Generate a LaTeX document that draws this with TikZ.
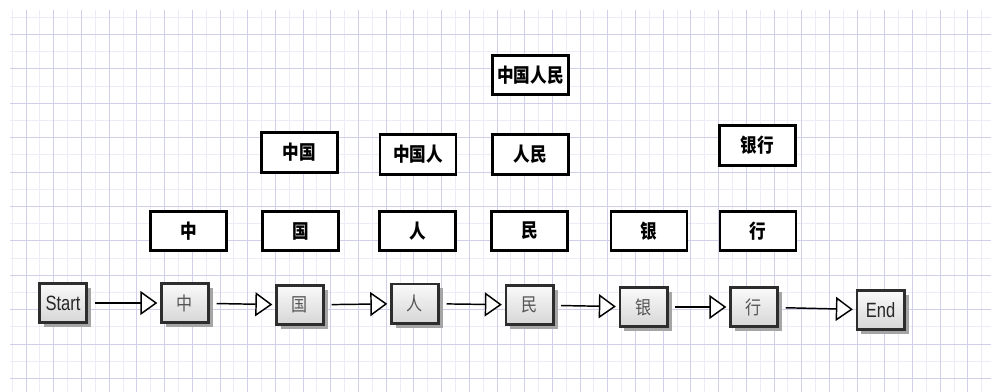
\documentclass[tikz,border=0pt]{standalone}
\usepackage{fontspec}
\setmainfont{Liberation Sans}[FakeStretch=0.8]
\newfontfamily\cjk{Noto Sans CJK SC}[FakeStretch=0.86]
\usetikzlibrary{arrows.meta,shadows,positioning}
\definecolor{grid-minor}{RGB}{236,236,247}
\definecolor{grid-major}{RGB}{208,208,234}
\definecolor{box-line}{RGB}{45,45,45}
\definecolor{box-shade}{RGB}{165,165,165}
\definecolor{char-gray}{RGB}{85,85,85}

\tikzset{
  word/.style={draw=black, line width=2.2pt, fill=white, inner sep=0pt,
    minimum width=57pt, minimum height=29.5pt,
    font=\cjk\bfseries\fontsize{14.5}{15}\selectfont},
  cell/.style={draw=box-line, line width=1.9pt, inner sep=0pt,
    top color=white!96!gray, bottom color=gray!32,
    minimum width=35.6pt, minimum height=29.6pt,
    drop shadow={shadow xshift=3.2pt, shadow yshift=-3.2pt, fill=box-shade, opacity=1},
    font=\cjk\fontsize{14}{15}\selectfont, text=char-gray},
  endpoint/.style={cell, font=\fontsize{15.5}{16}\selectfont, text=black!85},
  flow/.style={line width=1.1pt, -{Triangle[length=12.75pt,width=18pt,fill=white]},
    shorten <=5pt, shorten >=2pt}
}

\begin{document}
\begin{tikzpicture}[x=0.75pt,y=-0.75pt]

\useasboundingbox (0,0) rectangle (991,392);
\fill[white] (0,0) rectangle (991,392);

\begin{scope}
\clip (10,10) rectangle (991,392);
\foreach \i in {0,...,71}
  \draw[grid-minor, line width=0.6pt] ({12.15+13.85*\i},10) -- ({12.15+13.85*\i},392);
\foreach \j in {1,...,22}
  \draw[grid-minor, line width=0.6pt] (10,{17.2*\j}) -- (991,{17.2*\j});
\foreach \i in {0,...,35}
  \draw[grid-major, line width=0.6pt] ({26+27.7*\i},10) -- ({26+27.7*\i},392);
\foreach \j in {1,...,11}
  \draw[grid-major, line width=0.6pt] (10,{34.4*\j}) -- (991,{34.4*\j});
\end{scope}

\node[word] (zgrm) at (530.5,75) {中国人民};

\node[word] (zg) at (299.5,152.5) {中国};
\node[word] (zgr) at (418,154.5) {中国人};
\node[word] (rm) at (530.5,154.5) {人民};
\node[word] (yh) at (757.5,145.5) {银行};

\node[word] (wz) at (188.5,231) {中};
\node[word] (wg) at (300.5,231) {国};
\node[word] (wr) at (417.5,231) {人};
\node[word] (wm) at (529.5,231) {民};
\node[word] (wy) at (649,231) {银};
\node[word] (wh) at (758,231) {行};

\node[endpoint] (start) at (63,303) {Start};
\node[cell] (cz) at (185,303) {中};
\node[cell] (cg) at (300,305) {国};
\node[cell] (cr) at (415,303.5) {人};
\node[cell] (cm) at (529.5,305) {民};
\node[cell] (cy) at (643.5,307) {银};
\node[cell] (ch) at (754,307) {行};
\node[endpoint] (end) at (880.5,310) {End};

\draw[flow] (start) -- (cz);
\draw[flow] (cz) -- (cg);
\draw[flow] (cg) -- (cr);
\draw[flow] (cr) -- (cm);
\draw[flow] (cm) -- (cy);
\draw[flow] (cy) -- (ch);
\draw[flow] (ch) -- (end);

\end{tikzpicture}
\end{document}
